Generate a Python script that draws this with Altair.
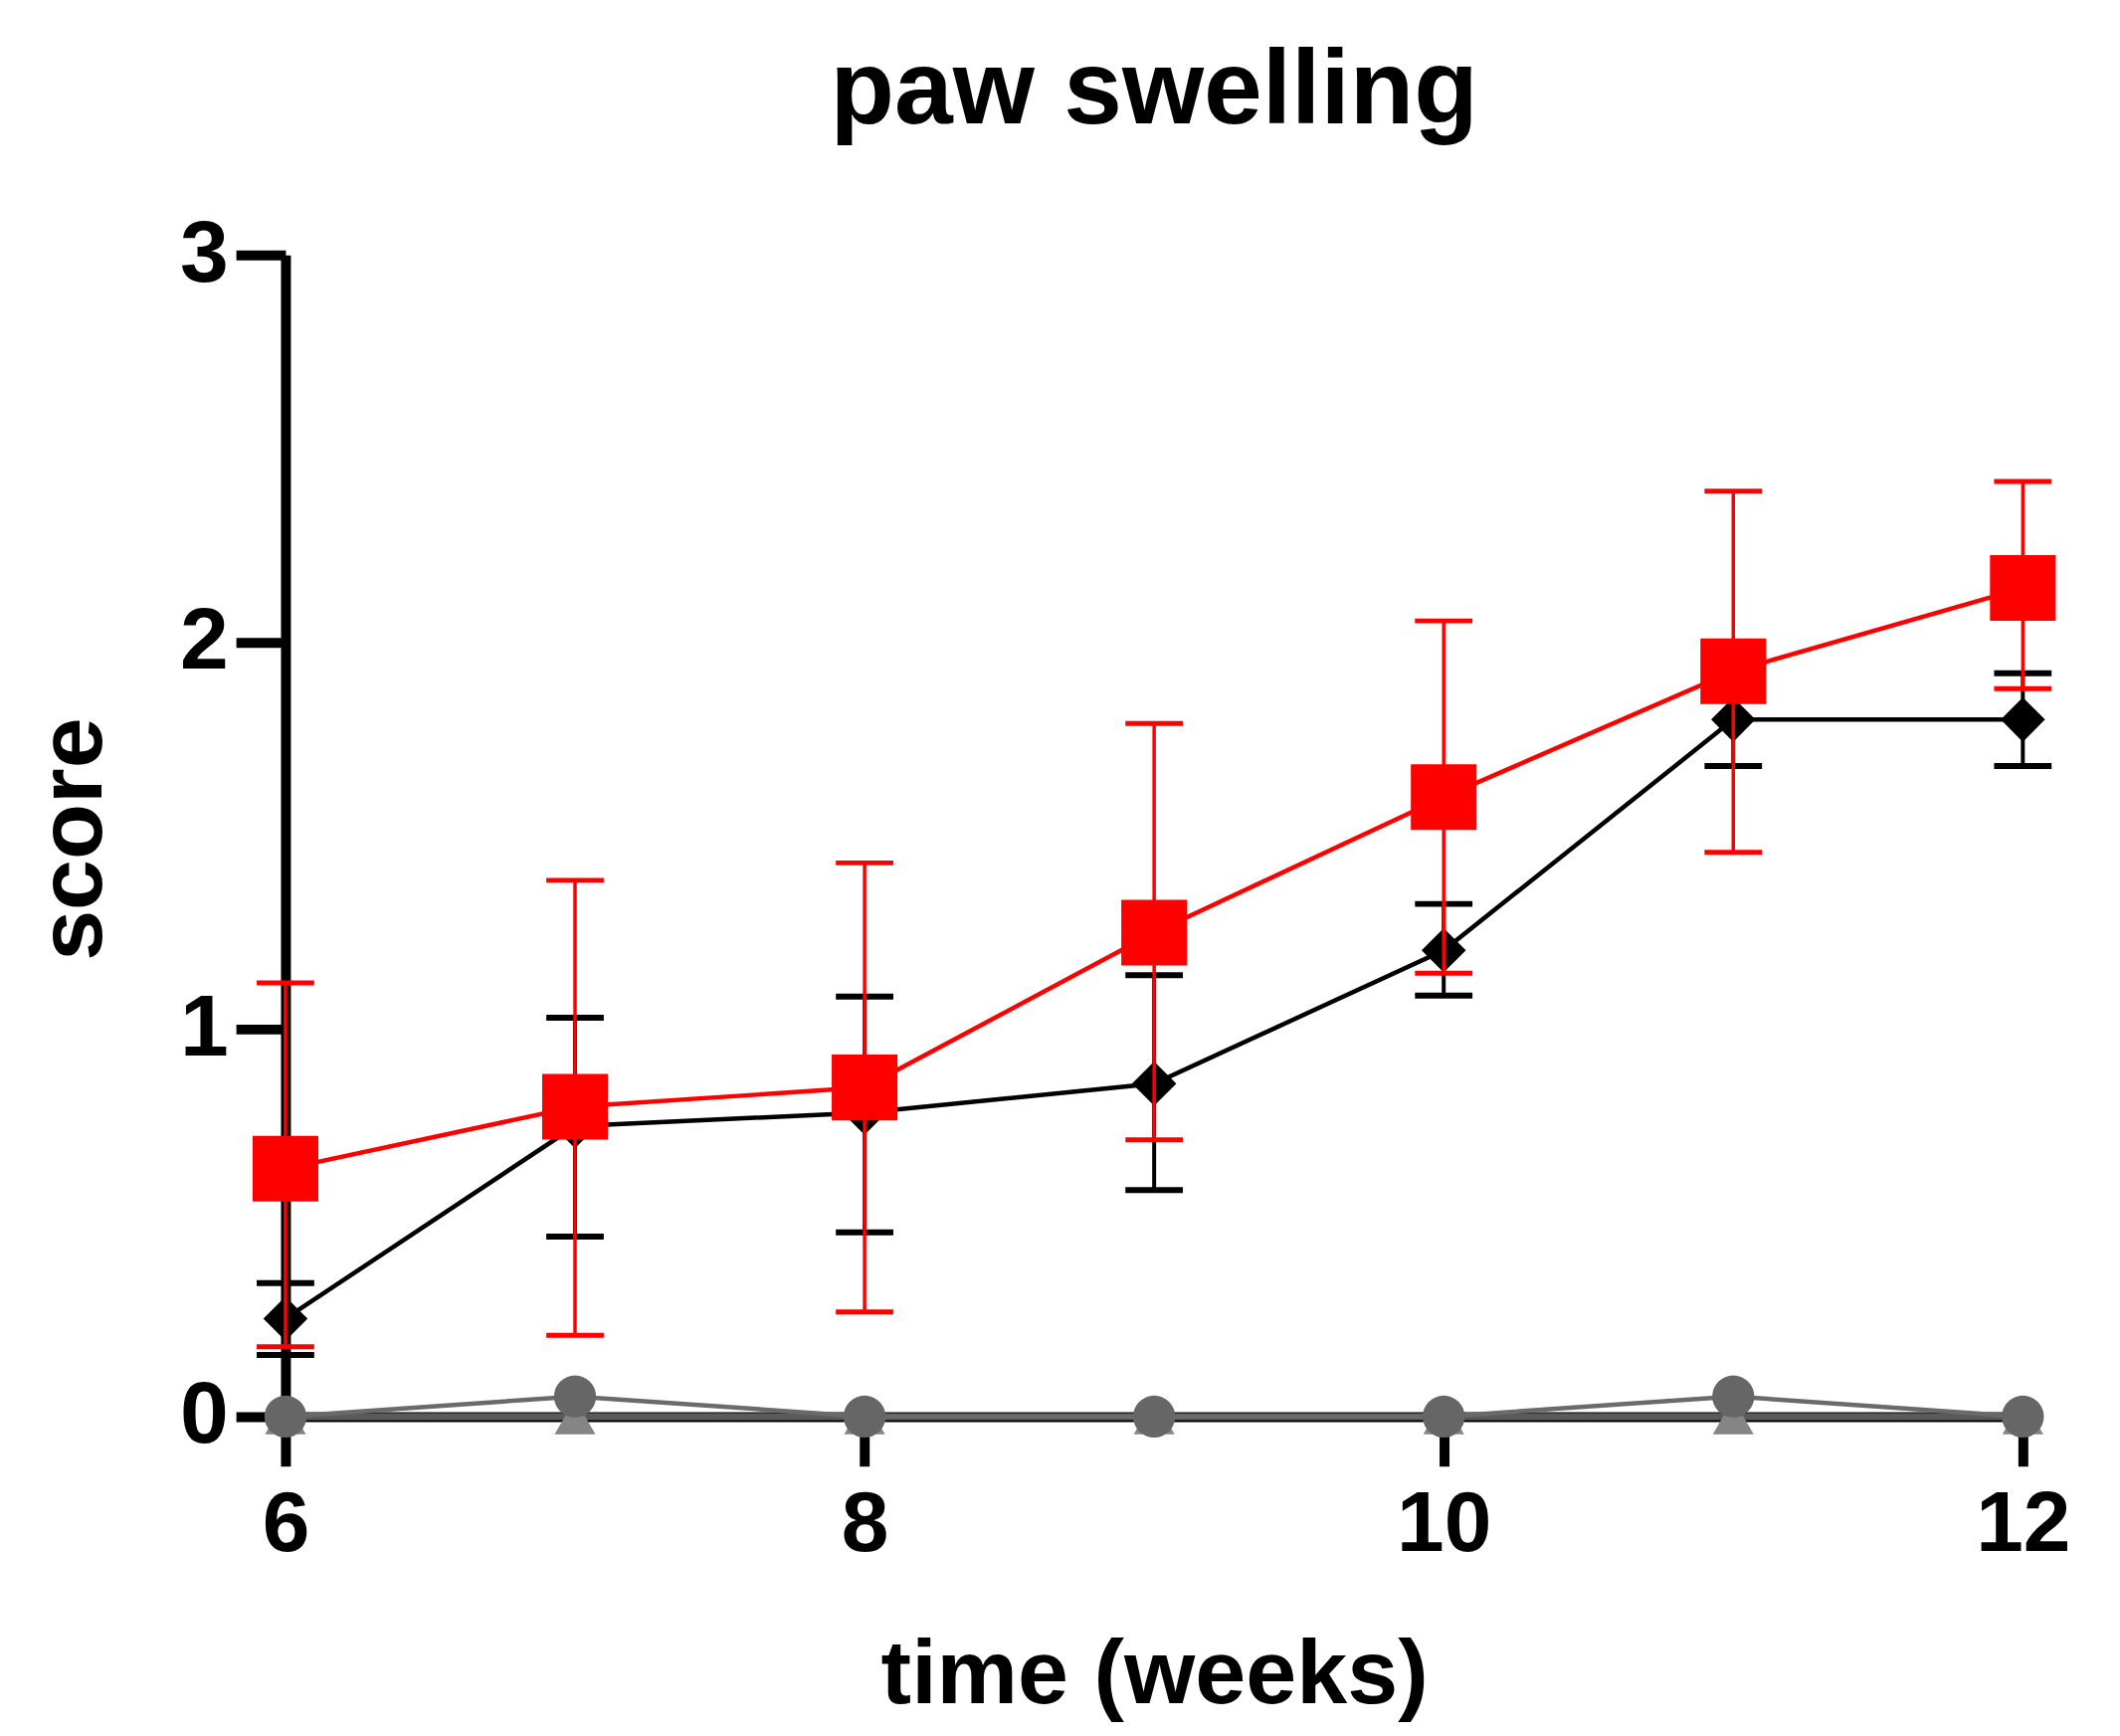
import altair as alt
import pandas as pd

weeks = [6, 7, 8, 9, 10, 11, 12]

red_mean = [0.64, 0.80, 0.85, 1.25, 1.60, 1.925, 2.14]
red_upper = [1.12, 1.385, 1.43, 1.79, 2.055, 2.39, 2.415]
red_lower = [0.18, 0.21, 0.27, 0.715, 1.145, 1.457, 1.88]

black_mean = [0.253, 0.75, 0.785, 0.86, 1.204, 1.80, 1.80]
black_upper = [0.345, 1.03, 1.085, 1.14, 1.324, 1.92, 1.92]
black_lower = [0.159, 0.465, 0.476, 0.585, 1.087, 1.68, 1.68]

gray_circle = [0.0, 0.052, 0.0, 0.0, 0.0, 0.052, 0.0]
gray_triangle = [0.0, 0.0, 0.0, 0.0, 0.0, 0.0, 0.0]

x_ticks = [6, 8, 10, 12]
y_ticks = [0, 1, 2, 3]

FONT = "Liberation Sans"

red = pd.DataFrame({"week": weeks, "mean": red_mean, "lo": red_lower, "hi": red_upper})
blk = pd.DataFrame({"week": weeks, "mean": black_mean, "lo": black_lower, "hi": black_upper})
gc = pd.DataFrame({"week": weeks, "mean": gray_circle})
gt = pd.DataFrame({"week": weeks, "mean": gray_triangle})

xscale = alt.Scale(domain=[6, 12], nice=False, zero=False)
yscale = alt.Scale(domain=[0, 3], nice=False, zero=False)

xaxis = alt.Axis(
    values=x_ticks, format="d", title="time (weeks)", grid=False, labelFlush=False,
    domainColor="black", domainWidth=10, tickColor="black", tickWidth=10, tickSize=50,
    labelFont=FONT, labelFontSize=86, labelFontWeight="bold", labelColor="black", labelPadding=17,
    titleFont=FONT, titleFontSize=92, titleFontWeight="bold", titleColor="black",
    titleBaseline="alphabetic", titleY=289,
)
yaxis = alt.Axis(
    values=y_ticks, format="d", title="score", grid=False, labelFlush=False,
    domainColor="black", domainWidth=10, tickColor="black", tickWidth=10, tickSize=50,
    labelFont=FONT, labelFontSize=88, labelFontWeight="bold", labelColor="black", labelPadding=8,
    titleFont=FONT, titleFontSize=92, titleFontWeight="bold", titleColor="black",
    titleBaseline="alphabetic", titleAngle=270, titleX=-186, titleY=589,
)

X = alt.X("week:Q", scale=xscale, axis=xaxis)
Y = alt.Y("mean:Q", scale=yscale, axis=yaxis)


def series(df, color, shape, size, lw, elw, cap_w, cap_t, err=True, line_color=None):
    base = alt.Chart(df)
    layers = []
    if err:
        layers.append(base.mark_rule(color=color, strokeWidth=elw).encode(
            x=alt.X("week:Q", scale=xscale, axis=xaxis),
            y=alt.Y("lo:Q", scale=yscale, axis=yaxis), y2="hi:Q"))
        layers.append(base.mark_tick(color=color, orient="horizontal", size=cap_w, thickness=cap_t, opacity=1).encode(
            x=alt.X("week:Q", scale=xscale, axis=xaxis), y=alt.Y("hi:Q", scale=yscale, axis=yaxis)))
        layers.append(base.mark_tick(color=color, orient="horizontal", size=cap_w, thickness=cap_t, opacity=1).encode(
            x=alt.X("week:Q", scale=xscale, axis=xaxis), y=alt.Y("lo:Q", scale=yscale, axis=yaxis)))
    layers.append(base.mark_line(color=line_color or color, strokeWidth=lw).encode(x=X, y=Y))
    layers.append(base.mark_point(color=color, shape=shape, size=size, filled=True, opacity=1).encode(x=X, y=Y))
    return layers


layers = []
layers += series(gt, "#858585", "triangle-up", 1700, 7, 0, 0, 0, err=False, line_color="#5a5a5a")
layers += series(gc, "#666666", "circle", 1800, 4.5, 0, 0, 0, err=False, line_color="#6a6a6a")
layers += series(blk, "black", "diamond", 2000, 4.5, 4, 58, 6)
layers += series(red, "#ff0000", "square", 4400, 4.5, 3.5, 58, 5)

chart = alt.layer(*layers).properties(
    width=1753,
    height=1172,
    background="white",
    title=alt.TitleParams(
        "paw swelling", font=FONT, fontSize=106, fontWeight="bold", color="black",
        anchor="middle", frame="group", offset=67,
    ),
    autosize=alt.AutoSizeParams(type="none"),
    padding={"left": 280, "top": 246, "right": 90, "bottom": 311},
).configure_view(strokeWidth=0)

chart.save("out.html", embed_options={"renderer": "svg", "actions": False})
